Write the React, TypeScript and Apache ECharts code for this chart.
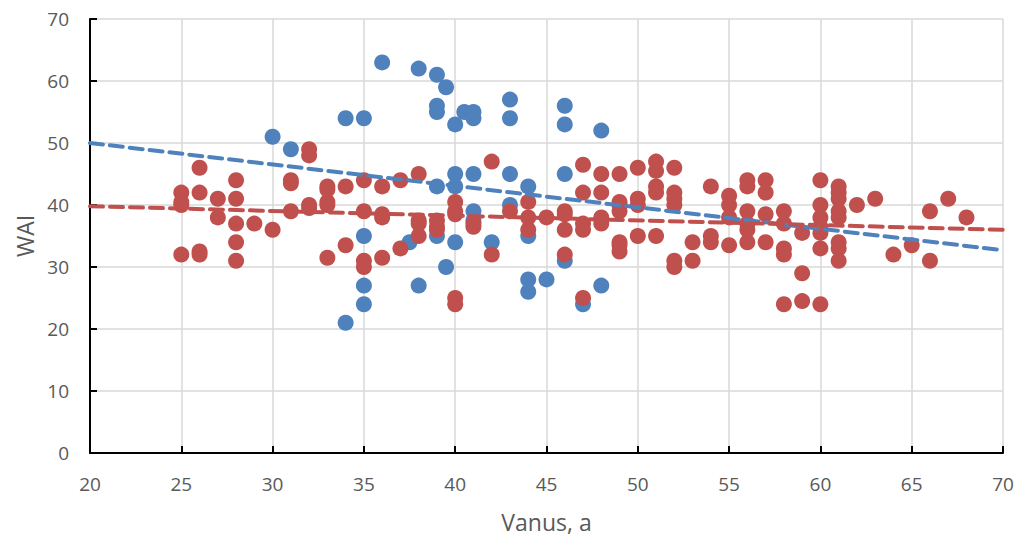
import React, { useEffect, useRef } from "react";
import * as echarts from "echarts";

const blueX = [30, 31, 34, 35, 36, 38, 39, 39.5, 39, 39, 40, 40.5, 41, 41, 43, 43, 46, 46, 48,
  40, 40, 39, 41, 43, 44, 46, 43, 41, 41, 37.5, 39, 40, 42, 44, 39.5, 38, 44, 44, 45, 46, 47, 48,
  35, 35, 35, 34];
const blueY = [51, 49, 54, 54, 63, 62, 61, 59, 56, 55, 53, 55, 55, 54, 57, 54, 56, 53, 52,
  45, 43, 43, 45, 45, 43, 45, 40, 39, 37.5, 34, 35, 34, 34, 35, 30, 27, 28, 26, 28, 31, 24, 27,
  35, 27, 24, 21];

const redX = [25, 25, 25, 25, 26, 26, 26, 26, 27, 27, 28, 28, 28, 28, 28, 29, 30,
  31, 31, 31, 32, 32, 32, 32, 33, 33, 33, 33, 33, 34, 34, 35, 35, 35, 35,
  36, 36, 36, 36, 37, 37, 38, 38, 38, 38, 39, 39, 39, 40, 40, 40, 40, 40,
  41, 41, 42, 42, 43, 44, 44, 44, 45, 46, 46, 46, 46, 47, 47, 47, 47, 47,
  48, 48, 48, 48, 49, 49, 49, 49, 49, 49, 49, 50, 50, 50, 50, 51, 51, 51, 51, 51,
  52, 52, 52, 52, 52, 52, 53, 53, 54, 54, 54, 55, 55, 55, 55,
  56, 56, 56, 56, 56, 56, 57, 57, 57, 57, 58, 58, 58, 58, 58, 59, 59, 59,
  60, 60, 60, 60, 60, 60, 60, 61, 61, 61, 61, 61, 61, 61, 61,
  62, 63, 64, 65, 66, 66, 67, 68];
const redY = [42, 40.5, 40, 32, 46, 42, 32.5, 32, 41, 38, 44, 41, 37, 34, 31, 37, 36,
  44, 43.5, 39, 49, 48, 40, 39.5, 43, 42.5, 40.5, 40, 31.5, 43, 33.5, 44, 39, 31, 30,
  43, 38.5, 38, 31.5, 44, 33, 45, 37.5, 37, 35, 37.5, 36.5, 36, 40.5, 39, 38.5, 25, 24,
  37, 36.5, 47, 32, 39, 40.5, 38, 36, 38, 39, 38.5, 36, 32, 46.5, 42, 37, 36, 25,
  45, 42, 38, 37, 45, 40.5, 40, 39, 34, 33.5, 32.5, 46, 41, 40, 35, 47, 45.5, 43, 42, 35,
  46, 42, 41, 40, 31, 30, 34, 31, 43, 35, 34, 41.5, 40, 38, 33.5,
  44, 43, 39, 37, 36, 34, 44, 42, 38.5, 34, 39, 37, 33, 32, 24, 35.5, 29, 24.5,
  44, 40, 38, 36.5, 35.5, 33, 24, 43, 42, 41, 39, 38, 34, 33, 31,
  40, 41, 32, 33.5, 39, 31, 41, 38];

const trendX = [20, 70];
const blueTrend = [50, 32.7];
const redTrend = [39.8, 36];

const xTicks = [20, 25, 30, 35, 40, 45, 50, 55, 60, 65, 70];
const yTicks = [0, 10, 20, 30, 40, 50, 60, 70];

const BLUE = "#4f81bd";
const RED = "#c0504d";
const TXT = "#595959";
const FONT = "'Open Sans', 'Noto Sans', sans-serif";

function pairs(xs: number[], ys: number[]) {
  return xs.map((x, i) => [x, ys[i]]);
}

export default function App() {
  const ref = useRef<HTMLDivElement>(null);
  useEffect(() => {
    if (!ref.current) return;
    const chart = echarts.init(ref.current, undefined, { renderer: "svg" });
    const axisCommon = {
      axisLine: { show: true, onZero: false, lineStyle: { color: "#000", width: 2 } },
      axisTick: { show: true, inside: true, length: 7, lineStyle: { color: "#000", width: 2 } },
      splitLine: { show: true, lineStyle: { color: "#d9d9d9", width: 1.5 } },
      axisLabel: { color: TXT, fontFamily: FONT, fontSize: 19 },
      nameTextStyle: { color: TXT, fontFamily: FONT, fontSize: 23 },
    };
    chart.setOption({
      animation: false,
      backgroundColor: "#fff",
      grid: { left: 90, right: 16, top: 19, bottom: 86, containLabel: false },
      xAxis: {
        type: "value",
        min: xTicks[0],
        max: xTicks[xTicks.length - 1],
        interval: 5,
        name: "Vanus, a",
        nameLocation: "middle",
        nameGap: 57,
        ...axisCommon,
        axisLabel: { ...axisCommon.axisLabel, margin: 21 },
      },
      yAxis: {
        type: "value",
        min: yTicks[0],
        max: yTicks[yTicks.length - 1],
        interval: 10,
        name: "WAI",
        nameLocation: "middle",
        nameGap: 51,
        nameRotate: 90,
        ...axisCommon,
        axisLabel: { ...axisCommon.axisLabel, margin: 21 },
      },
      series: [
        {
          type: "scatter",
          data: pairs(blueX, blueY),
          symbol: "circle",
          symbolSize: 16,
          itemStyle: { color: BLUE, opacity: 1 },
          z: 2,
        },
        {
          type: "scatter",
          data: pairs(redX, redY),
          symbol: "circle",
          symbolSize: 16,
          itemStyle: { color: RED, opacity: 1 },
          z: 3,
        },
        {
          type: "line",
          data: pairs(trendX, blueTrend),
          showSymbol: false,
          symbol: "none",
          lineStyle: { color: BLUE, width: 4, type: [13, 7], cap: "round" },
          z: 4,
        },
        {
          type: "line",
          data: pairs(trendX, redTrend),
          showSymbol: false,
          symbol: "none",
          lineStyle: { color: RED, width: 4, type: [13, 7], cap: "round" },
          z: 5,
        },
      ],
    });
    return () => chart.dispose();
  }, []);
  return (
    <div
      ref={ref}
      style={{ position: "absolute", left: 0, top: 0, width: 1019, height: 539 }}
    />
  );
}
